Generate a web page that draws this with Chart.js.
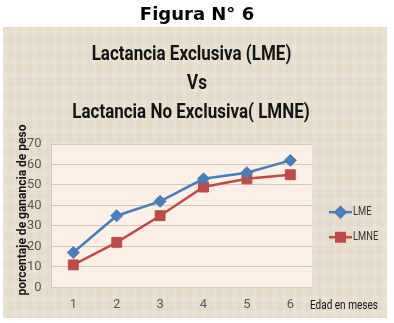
<!DOCTYPE html>
<html>
<head>
<meta charset="utf-8">
<script src="https://cdn.jsdelivr.net/npm/chart.js@4"></script>
<style>
  html, body { margin: 0; padding: 0; background: #fff; }
  #wrap { width: 394px; height: 323px; position: relative; }
</style>
</head>
<body>
<div id="wrap"><canvas id="chart" width="394" height="323"></canvas></div>
<script>
const meses = ['1', '2', '3', '4', '5', '6'];
const lme = [17, 35, 42, 53, 56, 62];
const lmne = [11, 22, 35, 49, 53, 55];
const titulo = ['Lactancia Exclusiva (LME)', 'Vs', 'Lactancia No Exclusiva( LMNE)'];
const FONT = "Roboto, 'Noto Sans', sans-serif";

// texto estrechado (imitando Calibri)
function textoAngosto(ctx, txt, x, y, font, sx, align) {
    ctx.save();
    ctx.font = font;
    ctx.textAlign = align || 'left';
    ctx.textBaseline = 'middle';
    ctx.translate(x, y);
    ctx.scale(sx, 1);
    ctx.fillText(txt, 0, 0);
    ctx.restore();
}

// panel beige con trama tipo lino (patron fijo)
function panelLino(ctx) {
    ctx.fillStyle = '#e7decc';
    ctx.fillRect(3, 27, 384, 291);
    for (let x = 3; x < 387; x += 2) {
        const k = (x * 7) % 5;
        ctx.fillStyle = k < 2 ? 'rgba(255,255,255,0.13)' : 'rgba(160,140,110,0.04)';
        ctx.fillRect(x, 27, 1, 291);
    }
    for (let y = 27; y < 318; y += 2) {
        const k = (y * 3) % 7;
        ctx.fillStyle = k < 3 ? 'rgba(255,255,255,0.11)' : 'rgba(160,140,110,0.035)';
        ctx.fillRect(3, y, 384, 1);
    }
}

const fondo = {
    id: 'fondo',
    beforeDraw(chart) {
        const ctx = chart.ctx;
        const a = chart.chartArea;
        ctx.save();
        ctx.fillStyle = '#ffffff';
        ctx.fillRect(0, 0, chart.width, chart.height);
        panelLino(ctx);
        ctx.fillStyle = '#000';
        ctx.font = "bold 18px 'DejaVu Sans', sans-serif";
        ctx.textAlign = 'center';
        ctx.textBaseline = 'middle';
        ctx.fillText('Figura N° 6', 197, 15);
        ctx.fillStyle = '#fcefe6';
        ctx.fillRect(a.left, a.top, a.right - a.left, a.bottom - a.top);
        ctx.restore();
    },
    afterDraw(chart) {
        const ctx = chart.ctx;
        const a = chart.chartArea;
        ctx.save();
        // titulo
        ctx.fillStyle = '#141414';
        const cx = [191.5, 197, 191];
        const cy = [55, 84, 113];
        titulo.forEach((t, i) => {
            textoAngosto(ctx, t, cx[i], cy[i], 'bold 20px ' + FONT, 0.85, 'center');
        });
        // titulo del eje y
        ctx.save();
        ctx.translate(23, 210);
        ctx.rotate(-Math.PI / 2);
        textoAngosto(ctx, 'porcentaje de ganancia de peso', 0, 0, 'bold 12px ' + FONT, 1.0, 'center');
        ctx.restore();
        // titulo del eje x a la derecha de las marcas
        textoAngosto(ctx, 'Edad en meses', a.right - 2, a.bottom + 18, '13px ' + FONT, 0.77, 'left');
        // leyenda
        const mid = (a.top + a.bottom) / 2;
        chart.data.datasets.forEach((ds, i) => {
            const y = mid + 9 + (i - 0.5) * 25;
            const x0 = a.right + 17;
            ctx.strokeStyle = ds.borderColor;
            ctx.lineWidth = 2.5;
            ctx.beginPath();
            ctx.moveTo(x0, y);
            ctx.lineTo(x0 + 23, y);
            ctx.stroke();
            Chart.helpers.drawPoint(ctx, {
                pointStyle: ds.pointStyle,
                radius: ds.pointRadius - 1,
                rotation: 0,
                borderWidth: 1
            }, x0 + 11.5, y);
            ctx.fillStyle = ds.borderColor;
            ctx.fill();
            ctx.fillStyle = '#333333';
            textoAngosto(ctx, ds.label, x0 + 24, y, '12px ' + FONT, 0.78, 'left');
        });
        ctx.restore();
    }
};

new Chart(document.getElementById('chart').getContext('2d'), {
    type: 'line',
    data: {
        labels: meses,
        datasets: [{
            label: 'LME',
            data: lme,
            borderColor: '#4a7ebb',
            backgroundColor: '#4a7ebb',
            borderWidth: 2.5,
            pointStyle: 'rectRot',
            pointRadius: 6,
            pointBorderWidth: 1,
            tension: 0
        }, {
            label: 'LMNE',
            data: lmne,
            borderColor: '#be4b48',
            backgroundColor: '#be4b48',
            borderWidth: 2.5,
            pointStyle: 'rect',
            pointRadius: 7,
            pointBorderWidth: 1,
            tension: 0
        }]
    },
    options: {
        responsive: false,
        animation: false,
        layout: {
            padding: { left: 17, right: 82, top: 144, bottom: 0 }
        },
        plugins: {
            legend: { display: false },
            tooltip: { enabled: false },
            title: { display: false }
        },
        scales: {
            x: {
                offset: true,
                grid: { display: false, drawTicks: false },
                border: { color: '#d3c8bf' },
                ticks: {
                    color: '#595959',
                    padding: 10,
                    font: { family: FONT, size: 13 }
                }
            },
            y: {
                min: 0,
                max: 70,
                grid: { color: '#d3c6bd', drawTicks: false },
                border: { display: true, color: '#d3c8bf' },
                ticks: {
                    stepSize: 10,
                    color: '#595959',
                    padding: 10,
                    font: { family: FONT, size: 13 }
                }
            }
        }
    },
    plugins: [fondo]
});
</script>
</body>
</html>
